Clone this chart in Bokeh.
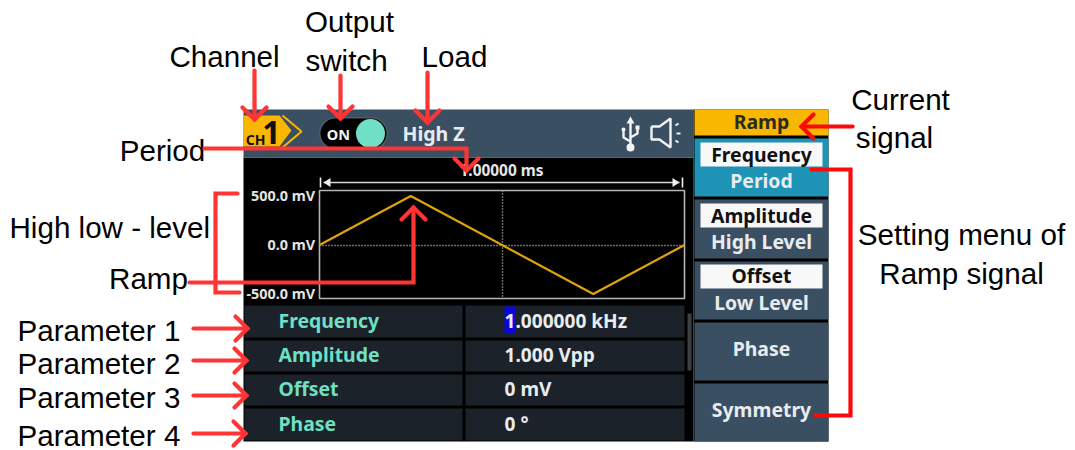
from bokeh.plotting import figure
from bokeh.models import Range1d
from bokeh.core.properties import value
from bokeh.embed import file_html
from bokeh.resources import INLINE

# ---- values shown on the instrument screen ----
ramp_time_ms = [0.0, 0.25, 0.75, 1.0]
ramp_level_mv = [0, 500, -500, 0]
level_ticks_mv = [500, 0, -500]
level_tick_labels = ["500.0 mV", "0.0 mV", "-500.0 mV"]
period_label = "1.00000 ms"
param_names = ["Frequency", "Amplitude", "Offset", "Phase"]
param_values = ["1.000000 kHz", "1.000 Vpp", "0 mV", "0 °"]

W, H = 1075, 450
p = figure(width=W, height=H, x_range=Range1d(1, W + 1), y_range=Range1d(H, 0),
           output_backend="svg", toolbar_location=None, min_border=0,
           background_fill_color="white", border_fill_color="white",
           outline_line_color=None, styles={"position": "absolute", "left": "0", "top": "0"})
p.axis.visible = False
p.grid.visible = False

# scope area scale: time/level mapped on the pixel canvas
X0, PX_MS = 320.0, 365.0
Y0, PX_MV = 244.5, 49.0 / 500
p.extra_x_ranges["t"] = Range1d((1 - X0) / PX_MS, (W + 1 - X0) / PX_MS)
p.extra_y_ranges["v"] = Range1d((Y0 - H) / PX_MV, Y0 / PX_MV)

HEADER = "#3b4f63"; ROW = "#1b2229"; YEL = "#f9b701"; TEAL = "#1f93b6"; MINT = "#6fe0c6"
TXT = "#e8ecef"; RED = "#ff3535"; PURE = "#fb0a0a"


def box(l, r, t, b, c, **k):
    p.quad(left=l, right=r, top=t, bottom=b, fill_color=c, line_color=None, **k)


def txt(x, y, s, size, color, align="center", font="Noto Sans", style="bold"):
    p.text(x=[x], y=[y - 1], text=[s], text_font=value(font), text_font_size=f"{size}px",
           text_font_style=style, text_color=color, text_align=align, text_baseline="middle")


def ann(x, y, s, align="center"):
    txt(x, y, s, 29.6, "#000000", align, "Liberation Sans", "normal")


def line(xs, ys, c=RED, w=4.2):
    p.line(xs, ys, line_color=c, line_width=w, line_join="miter", line_cap="round")


def head(tx, ty, dx, dy, c=RED):
    s = 12
    px, py = -dy, dx
    line([tx - dx * s + px * s, tx, tx - dx * s - px * s],
         [ty - dy * s + py * s, ty, ty - dy * s - py * s], c)


# ---- screen ----
box(244, 694, 157, 441, "#000000")
box(244, 694, 109, 157, HEADER)
box(694, 829, 109, 441, "#000000")

# badge
p.patch([244, 280, 292, 280, 244], [115, 115, 130, 146, 146], fill_color=YEL, line_color=None)
p.line([283, 302, 283], [115, 131, 147], line_color=YEL, line_width=2)
txt(256, 140, "CH", 14, "#111111")
txt(272, 133, "1", 32, "#111111")

# switch
p.line([336, 372], [133, 133], line_color="#555b60", line_width=33, line_cap="round")
p.line([336, 372], [133, 133], line_color="#000000", line_width=30, line_cap="round")
p.scatter([371], [133], size=29, fill_color=MINT, line_color=None)
txt(339, 134, "ON", 14.5, "#f5f5f5")
txt(403, 134, "High Z", 19.5, TXT, "left")

# usb + speaker icons
ic = "#f2f4f5"
line([631, 631], [120, 148], ic, 2.4)
p.patch([631, 627, 635], [116, 123, 123], fill_color=ic, line_color=None)
p.multi_line([[631, 624, 624], [631, 638, 638]], [[141, 137, 130], [137, 133, 128]], line_color=ic, line_width=2.4)
p.scatter([631, 624], [147, 129], size=[8, 4], fill_color=ic, line_color=None)
p.scatter([638], [127], marker="square", size=4, fill_color=ic, line_color=None)
p.line([652, 660, 671, 671, 660, 652, 652], [126, 126, 118, 147, 139, 139, 126], line_color=ic, line_width=2.4)
p.multi_line([[676, 679], [677, 681], [676, 679]], [[125, 123], [133, 133], [140, 142]], line_color=ic, line_width=2)

# scope
txt(502, 171, period_label, 15.4, "#e6e6e6")
p.line([324, 680], [182, 182], line_color="#d8d8d8", line_width=1.6)
p.patch([324, 331, 331], [182, 177.5, 186.5], fill_color="#eeeeee", line_color=None)
p.patch([680, 673, 673], [182, 177.5, 186.5], fill_color="#eeeeee", line_color=None)
p.multi_line([[321, 321], [683, 683]], [[177, 187], [177, 187]], line_color="#eeeeee", line_width=1.6)

p.multi_line([[503, 503], [320, 685]], [[190, 298], [245, 245]], line_color="#d6d6d6", line_width=1.4, line_dash="1 2")
p.quad(left=320, right=685, top=190, bottom=298, fill_color=None, line_color="#b5b5b5", line_width=1.6)
p.line(ramp_time_ms, ramp_level_mv, x_range_name="t", y_range_name="v", line_color="#dfa40a", line_width=2.2)
p.text(x=[-0.012] * 3, y=[v + 10 for v in level_ticks_mv], text=level_tick_labels, x_range_name="t", y_range_name="v",
       text_font=value("Noto Sans"), text_font_size="14.4px", text_font_style="bold", text_color="#e4e4e4",
       text_align="right", text_baseline="middle")

# parameter table
row_top = [305, 340, 374, 408]
row_bot = [337, 371, 405, 440]
row_y = [321, 355, 389, 424]
for t, b in zip(row_top, row_bot):
    box(245, 463, t, b, ROW)
    box(466, 685, t, b, ROW)
box(688, 692, 313, 370, "#3d4144")
box(505, 516, 306, 333, "#0808dc")
for y, n, v in zip(row_y, param_names, param_values):
    txt(279, y, n, 19.4, MINT, "left")
    txt(505, y, v, 19.1, TXT, "left")

# side menu
box(695, 829, 109, 135, YEL)
box(695, 829, 138, 196, TEAL)
for t, b in [(199, 258), (261, 319), (322, 380), (383, 441)]:
    box(695, 829, t, b, HEADER)
for t, b in [(142, 166), (203, 227), (264, 288)]:
    box(701, 823, t, b, "#f8f8f8")
txt(762, 122, "Ramp", 19.4, "#2b2b20")
for y, s in [(155, "Frequency"), (216, "Amplitude"), (276, "Offset")]:
    txt(762, y, s, 19.4, "#111111")
for y, s in [(181, "Period"), (242, "High Level"), (303, "Low Level"), (349, "Phase"), (410, "Symmetry")]:
    txt(762, y, s, 19.4, TXT)

# ---- annotations ----
ann(225, 57, "Channel")
ann(350, 22, "Output")
ann(347, 61, "switch")
ann(455, 57, "Load")
ann(163, 151, "Period")
ann(10, 228, "High low - level", "left")
ann(149, 279, "Ramp")
for y, n in zip([331, 364, 398, 435.5], ["Parameter 1", "Parameter 2", "Parameter 3", "Parameter 4"]):
    ann(18, y, n, "left")
ann(901, 100, "Current")
ann(895, 138, "signal")
ann(962, 235, "Setting menu of")
ann(962, 274, "Ramp signal")

line([255, 255], [70, 119]); head(255, 119, 0, 1)
line([341, 341], [75, 118]); head(341, 118, 0, 1)
line([428, 428], [72, 122]); head(428, 122, 0, 1)
line([205, 467, 467], [148, 148, 170]); head(467, 170, 0, 1)
line([238, 216, 216, 240], [193, 193, 292, 292])
line([190, 414, 414], [282, 282, 207]); head(414, 207, 0, -1)
line([853, 802], [126, 126], PURE); head(802, 126, -1, 0, PURE)
line([812, 851, 851, 816], [169, 169, 415, 415], PURE)
for y, tip in zip([328, 360, 395, 433], [248, 247, 247, 246]):
    line([194, tip], [y, y]); head(tip, y, 1, 0)

open("out.html", "w").write(file_html(p, INLINE))
